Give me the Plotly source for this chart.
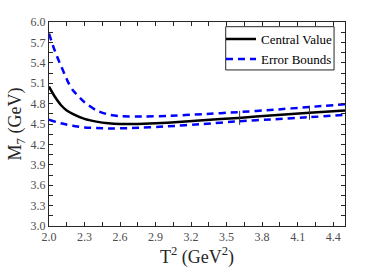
import plotly.graph_objects as go

# Data
t2_central = [2.0, 2.05, 2.1, 2.15, 2.2, 2.3, 2.4, 2.5, 2.6, 2.8, 3.0, 3.3, 3.6, 3.9, 4.2, 4.5]
m_central = [5.05, 4.90, 4.78, 4.70, 4.65, 4.575, 4.535, 4.51, 4.50, 4.505, 4.52, 4.555, 4.59, 4.63, 4.665, 4.70]

t2_upper = [2.0, 2.04, 2.08, 2.12, 2.16, 2.2, 2.3, 2.4, 2.5, 2.6, 2.8, 3.0, 3.3, 3.6, 3.9, 4.2, 4.5]
m_upper = [5.83, 5.62, 5.44, 5.28, 5.12, 5.00, 4.82, 4.70, 4.64, 4.615, 4.61, 4.62, 4.645, 4.675, 4.71, 4.75, 4.79]

t2_lower = [2.0, 2.1, 2.2, 2.3, 2.4, 2.5, 2.7, 3.0, 3.3, 3.6, 3.9, 4.2, 4.5]
m_lower = [4.565, 4.51, 4.475, 4.45, 4.44, 4.435, 4.44, 4.465, 4.50, 4.54, 4.57, 4.60, 4.635]

mark_t2 = [3.61, 4.2]
mark_m = [4.59, 4.665]

x_ticks = [2.0, 2.3, 2.6, 2.9, 3.2, 3.5, 3.8, 4.1, 4.4]
y_ticks = [3.0, 3.3, 3.6, 3.9, 4.2, 4.5, 4.8, 5.1, 5.4, 5.7, 6.0]

font_family = "Liberation Serif"

fig = go.Figure()
fig.add_trace(go.Scatter(x=t2_central, y=m_central, mode="lines", name="Central Value",
                         line=dict(color="black", width=2.5, shape="spline", smoothing=0.6)))
fig.add_trace(go.Scatter(x=t2_upper, y=m_upper, mode="lines", name="Error Bounds",
                         line=dict(color="#0000FF", width=2.5, dash="7px,5px", shape="spline", smoothing=0.6)))
fig.add_trace(go.Scatter(x=t2_lower, y=m_lower, mode="lines", name="Error Bounds", showlegend=False,
                         line=dict(color="#0000FF", width=2.5, dash="7px,5px", shape="spline", smoothing=0.6)))
fig.add_trace(go.Scatter(x=mark_t2, y=mark_m, mode="markers", showlegend=False,
                         marker=dict(symbol="line-ns", size=10, line=dict(color="#333333", width=1))))

axis_common = dict(
    showline=True, linecolor="#262626", linewidth=1, mirror="ticks",
    ticks="inside", ticklen=4, tickcolor="#262626", tickwidth=1,
    showgrid=False, zeroline=False, automargin=False,
    tickfont=dict(family=font_family, size=12, color="#4d4d4d"),
)

fig.update_xaxes(range=[2.0, 4.5], tickvals=x_ticks, ticktext=[f"{v:.1f}" for v in x_ticks],
                 minor=dict(dtick=0.15, tick0=2.0, ticks="inside", ticklen=4, tickcolor="#262626"),
                 title=dict(text="T<sup>2</sup> (GeV<sup>2</sup>)", font=dict(family=font_family, size=18, color="#262626"), standoff=6),
                 **axis_common)
fig.update_yaxes(range=[3.0, 6.0], tickvals=y_ticks, ticktext=[f"{v:.1f}" for v in y_ticks],
                 minor=dict(dtick=0.15, tick0=3.0, ticks="inside", ticklen=4, tickcolor="#262626"),
                 title=dict(text="M<sub>7</sub> (GeV)", font=dict(family=font_family, size=18, color="#262626"), standoff=4),
                 **axis_common)

# legend frame (drawn as a box behind the legend entries)
fig.add_shape(type="rect", xref="paper", yref="paper", x0=0.597, x1=0.963, y0=0.765, y1=0.977,
              fillcolor="white", line=dict(color="#262626", width=1), layer="above")

fig.update_layout(
    width=382, height=273,
    margin=dict(l=49, r=37, t=22, b=47),
    paper_bgcolor="white", plot_bgcolor="white",
    showlegend=True,
    legend=dict(x=0.581, y=0.99, xanchor="left", yanchor="top",
                bgcolor="rgba(0,0,0,0)", borderwidth=0,
                font=dict(family=font_family, size=13, color="black"),
                itemwidth=30, tracegroupgap=0),
)

fig.write_html("out.html", config={"displayModeBar": False},
               post_script="document.body.style.margin='0';document.body.style.overflow='hidden';")
